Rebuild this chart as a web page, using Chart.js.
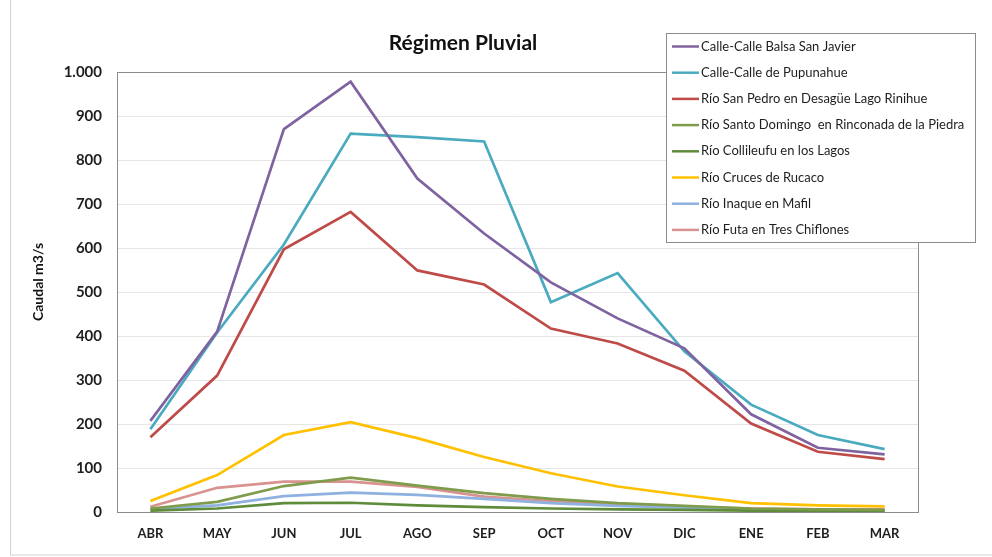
<!DOCTYPE html>
<html>
<head>
<meta charset="utf-8">
<style>
  html, body { margin: 0; padding: 0; background: #ffffff; }
  #wrap { position: relative; width: 992px; height: 557px; }
</style>
<script src="https://cdn.jsdelivr.net/npm/chart.js@4/dist/chart.umd.min.js"></script>
</head>
<body>
<div id="wrap"><canvas id="c" width="992" height="557"></canvas></div>
<script>
// Monthly mean discharge (m3/s), hydrological year April–March
const months = ['ABR', 'MAY', 'JUN', 'JUL', 'AGO', 'SEP', 'OCT', 'NOV', 'DIC', 'ENE', 'FEB', 'MAR'];

const seriesNames = [
  'Calle-Calle Balsa San Javier',
  'Calle-Calle de Pupunahue',
  'Río San Pedro en Desagüe Lago Rinihue',
  'Río Santo Domingo  en Rinconada de la Piedra',
  'Río Collileufu en los Lagos',
  'Río Cruces de Rucaco',
  'Río Inaque en Mafil',
  'Río Futa en Tres Chiflones'
];

const balsaSanJavier   = [207, 410, 870, 978, 758, 633, 522, 440, 372, 222, 146, 131];
const pupunahue        = [188, 408, 608, 860, 852, 842, 477, 543, 365, 244, 175, 143];
const sanPedro         = [170, 310, 597, 682, 549, 517, 417, 383, 321, 201, 137, 120];
const santoDomingo     = [8, 23, 59, 78, 60, 43, 30, 20, 14, 8, 6, 5];
const collileufu       = [3, 8, 20, 21, 15, 11, 8, 6, 5, 3, 3, 3];
const crucesRucaco     = [25, 84, 175, 204, 168, 125, 88, 58, 38, 20, 15, 13];
const inaqueMafil      = [7, 15, 36, 44, 39, 30, 20, 14, 10, 5, 5, 4];
const futaTresChiflones = [12, 55, 69, 69, 57, 35, 25, 18, 12, 8, 6, 6];

const yTicks = [0, 100, 200, 300, 400, 500, 600, 700, 800, 900, 1000];

const seriesValues = [balsaSanJavier, pupunahue, sanPedro, santoDomingo, collileufu, crucesRucaco, inaqueMafil, futaTresChiflones];
const seriesColors = ['#7f63a0', '#4aaabf', '#be4b48', '#7f9c4d', '#5e8c3b', '#ffc000', '#8eb1df', '#d8928f'];

const FONT = 'Lato, "Open Sans", "DejaVu Sans", sans-serif';

// Frame, title, axis title and boxed legend drawn on the canvas
const decorations = {
  id: 'decorations',
  beforeDraw(chart) {
    const ctx = chart.ctx;
    ctx.save();
    ctx.fillStyle = '#ffffff';
    ctx.fillRect(0, 0, chart.width, chart.height);
    ctx.strokeStyle = '#d4d4d4';
    ctx.lineWidth = 1;
    ctx.strokeRect(10.5, -1, chart.width + 5, 556);
    ctx.restore();
  },
  afterDatasetsDraw(chart) {
    const ctx = chart.ctx;
    const a = chart.chartArea;
    ctx.save();
    // plot area border
    ctx.strokeStyle = '#8c8c8c';
    ctx.lineWidth = 1;
    ctx.strokeRect(Math.round(a.left) + 0.5, Math.round(a.top) + 0.5,
                   Math.round(a.right - a.left), Math.round(a.bottom - a.top));

    // chart title
    ctx.fillStyle = '#111111';
    ctx.font = 'bold 21px ' + FONT;
    ctx.textAlign = 'center';
    ctx.textBaseline = 'middle';
    ctx.fillText('Régimen Pluvial', 463, 43);

    // y axis title
    ctx.save();
    ctx.translate(38, 282);
    ctx.rotate(-Math.PI / 2);
    ctx.font = 'bold 14px ' + FONT;
    ctx.fillStyle = '#111111';
    ctx.fillText('Caudal m3/s', 0, 0);
    ctx.restore();

    // legend
    const lx = 666.5, ly = 33.5, lw = 309, lh = 209;
    ctx.fillStyle = '#ffffff';
    ctx.fillRect(lx, ly, lw, lh);
    ctx.strokeStyle = '#8c8c8c';
    ctx.strokeRect(lx, ly, lw, lh);
    ctx.font = '13px ' + FONT;
    ctx.textAlign = 'left';
    ctx.textBaseline = 'middle';
    chart.data.datasets.forEach((ds, i) => {
      const y = 46.5 + i * 26.2;
      ctx.strokeStyle = ds.borderColor;
      ctx.lineWidth = 2.5;
      ctx.beginPath();
      ctx.moveTo(672, y);
      ctx.lineTo(699, y);
      ctx.stroke();
      ctx.fillStyle = '#1e1e1e';
      ctx.fillText(ds.label, 701, y);
    });
    ctx.restore();
  }
};

new Chart(document.getElementById('c'), {
  type: 'line',
  data: {
    labels: months,
    datasets: seriesNames.map((name, i) => ({
      label: name,
      data: seriesValues[i],
      borderColor: seriesColors[i],
      backgroundColor: seriesColors[i],
      borderWidth: 2.7,
      pointRadius: 0,
      tension: 0,
      fill: false
    }))
  },
  options: {
    responsive: false,
    animation: false,
    devicePixelRatio: 1,
    layout: { padding: { left: 10, top: 72, right: 74, bottom: 0 } },
    plugins: {
      legend: { display: false },
      title: { display: false },
      tooltip: { enabled: false }
    },
    scales: {
      x: {
        offset: true,
        grid: { display: false, drawTicks: false },
        border: { display: false },
        ticks: {
          padding: 14,
          color: '#1e1e1e',
          font: { family: FONT, size: 13, weight: 'bold' },
          maxRotation: 0
        },
        afterFit(scale) { scale.height = 45; }
      },
      y: {
        min: 0,
        max: 1000,
        afterBuildTicks(scale) { scale.ticks = yTicks.map(v => ({ value: v })); },
        grid: { color: '#e6e6e6', lineWidth: 1, drawTicks: false },
        border: { display: false },
        ticks: {
          padding: 15,
          color: '#1e1e1e',
          font: { family: FONT, size: 15, weight: 'bold' },
          callback: v => v.toLocaleString('de-DE')
        },
        afterFit(scale) { scale.width = 107; }
      }
    }
  },
  plugins: [decorations]
});
</script>
</body>
</html>
